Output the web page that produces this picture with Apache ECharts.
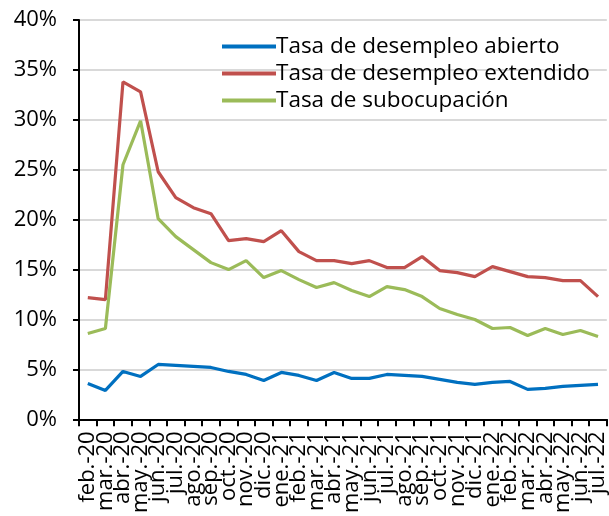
<!DOCTYPE html>
<html>
<head>
<meta charset="utf-8">
<script src="https://cdn.jsdelivr.net/npm/echarts@6/dist/echarts.min.js"></script>
<style>
  html, body { margin: 0; padding: 0; background: #fff; }
  #ec1 { width: 609px; height: 516px; }
</style>
</head>
<body>
<div id="ec1"></div>
<script>
// meses feb.20 - jul.22
var meses = ['feb.-20', 'mar.-20', 'abr.-20', 'may.-20', 'jun.-20', 'jul.-20', 'ago.-20', 'sep.-20', 'oct.-20', 'nov.-20', 'dic.-20',
    'ene.-21', 'feb.-21', 'mar.-21', 'abr.-21', 'may.-21', 'jun.-21', 'jul.-21', 'ago.-21', 'sep.-21', 'oct.-21', 'nov.-21', 'dic.-21',
    'ene.-22', 'feb.-22', 'mar.-22', 'abr.-22', 'may.-22', 'jun.-22', 'jul.-22'];

var abierto = [3.6, 2.9, 4.8, 4.3, 5.5, 5.4, 5.3, 5.2, 4.8, 4.5, 3.9,
    4.7, 4.4, 3.9, 4.7, 4.1, 4.1, 4.5, 4.4, 4.3, 4.0, 3.7, 3.5,
    3.7, 3.8, 3.0, 3.1, 3.3, 3.4, 3.5];

var extendido = [12.2, 12.0, 33.8, 32.8, 24.8, 22.2, 21.2, 20.6, 17.9, 18.1, 17.8,
    18.9, 16.8, 15.9, 15.9, 15.6, 15.9, 15.2, 15.2, 16.3, 14.9, 14.7, 14.3,
    15.3, 14.8, 14.3, 14.2, 13.9, 13.9, 12.3];

var subocupacion = [8.6, 9.1, 25.5, 29.9, 20.1, 18.3, 17.0, 15.7, 15.0, 15.9, 14.2,
    14.9, 14.0, 13.2, 13.7, 12.9, 12.3, 13.3, 13.0, 12.3, 11.1, 10.5, 10.0,
    9.1, 9.2, 8.4, 9.1, 8.5, 8.9, 8.3];

var nombres = ['Tasa de desempleo abierto', 'Tasa de desempleo extendido', 'Tasa de subocupación'];
var colores = ['#0070C0', '#C0504D', '#9BBB59'];
var yTicks = [0, 5, 10, 15, 20, 25, 30, 35, 40];

var fuente = 'Open Sans';
var myChart = echarts.init(document.getElementById('ec1'));

function serie(nombre, datos) {
    return {
        name: nombre,
        type: 'line',
        data: datos,
        symbol: 'none',
        smooth: false,
        lineStyle: { width: 3.2 }
    };
}

var option = {
    animation: false,
    color: colores,
    textStyle: { fontFamily: fuente },
    grid: { left: 79, right: 1, top: 20, bottom: 96, containLabel: false },
    legend: {
        data: nombres,
        orient: 'vertical',
        left: 217,
        top: 30,
        icon: 'rect',
        itemWidth: 54,
        itemHeight: 4,
        itemGap: 4,
        textStyle: { fontSize: 22.5, color: '#000', fontFamily: fuente, padding: [0, 0, 0, -5] }
    },
    xAxis: {
        type: 'category',
        data: meses,
        boundaryGap: true,
        axisLine: { lineStyle: { color: '#000', width: 2 } },
        axisTick: { show: true, length: 7, interval: 0, lineStyle: { color: '#000', width: 2 } },
        axisLabel: { interval: 0, rotate: 90, margin: 12, fontSize: 22, color: '#000', fontFamily: fuente }
    },
    yAxis: {
        type: 'value',
        min: yTicks[0],
        max: yTicks[yTicks.length - 1],
        interval: 5,
        axisLine: { show: true, lineStyle: { color: '#000', width: 2 } },
        axisTick: { show: true, length: 6, lineStyle: { color: '#000', width: 2 } },
        axisLabel: { margin: 22, fontSize: 22, color: '#000', fontFamily: fuente, formatter: '{value}%' },
        splitLine: { show: true, lineStyle: { color: '#d9d9d9', width: 2 } }
    },
    series: [
        serie(nombres[0], abierto),
        serie(nombres[1], extendido),
        serie(nombres[2], subocupacion)
    ]
};
myChart.setOption(option);
</script>
</body>
</html>
